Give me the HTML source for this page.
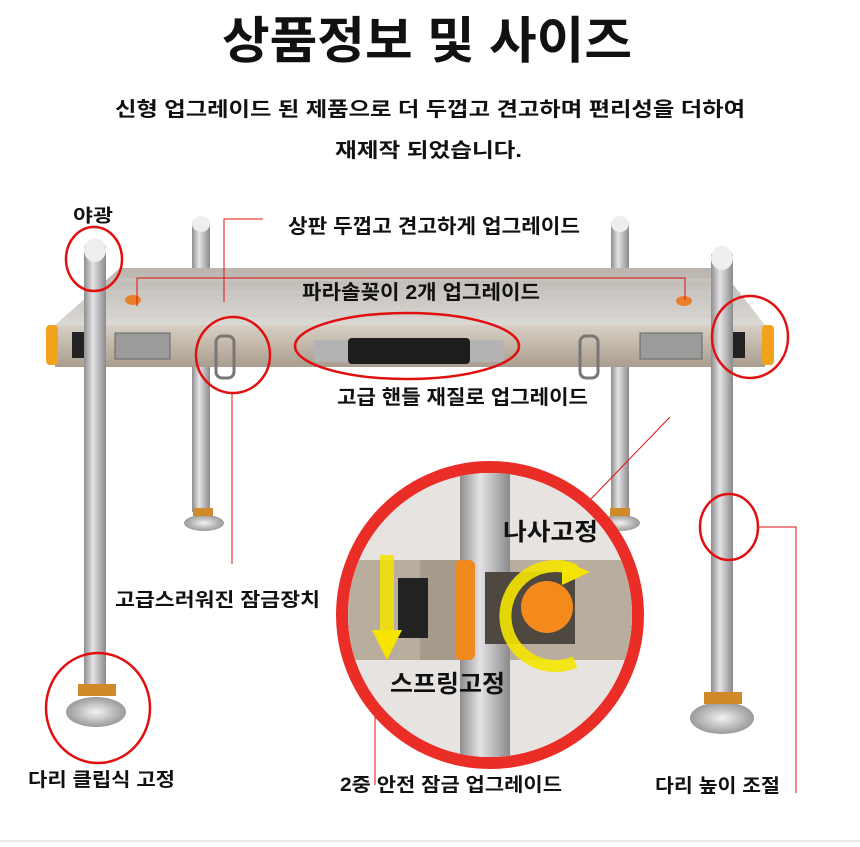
<!DOCTYPE html>
<html><head><meta charset="utf-8"><style>
html,body{margin:0;padding:0;background:#fff;width:860px;height:847px;overflow:hidden}
svg{display:block}
text{font-family:"Liberation Sans","Noto Sans CJK KR",sans-serif;font-weight:bold;fill:#111}
</style></head><body>
<svg width="860" height="847" viewBox="0 0 860 847">
<defs>
<linearGradient id="leg" x1="0" x2="1"><stop offset="0" stop-color="#8d8d8f"/><stop offset=".4" stop-color="#e4e4e6"/><stop offset="1" stop-color="#8a8a8c"/></linearGradient>
<linearGradient id="top" x1="0" y1="0" x2="0" y2="1"><stop offset="0" stop-color="#b9b4ae"/><stop offset="1" stop-color="#dcd9d5"/></linearGradient>
<linearGradient id="face" x1="0" y1="0" x2="0" y2="1"><stop offset="0" stop-color="#d8d0c6"/><stop offset=".5" stop-color="#c1b6a8"/><stop offset="1" stop-color="#a99d8f"/></linearGradient>
<radialGradient id="foot"><stop offset="0" stop-color="#f2f2f2"/><stop offset="1" stop-color="#9a9a9a"/></radialGradient>
<clipPath id="bc"><circle cx="490" cy="615" r="142"/></clipPath>
</defs>
<text x="222" y="58" font-size="50" font-weight="900" textLength="410" lengthAdjust="spacingAndGlyphs">상품정보 및 사이즈</text>
<text x="115" y="116" font-size="20" textLength="630" lengthAdjust="spacingAndGlyphs">신형 업그레이드 된 제품으로 더 두껍고 견고하며 편리성을 더하여</text>
<text x="335" y="157" font-size="20" textLength="187" lengthAdjust="spacingAndGlyphs">재제작 되었습니다.</text>

<!-- back legs -->
<rect x="192" y="222" width="18" height="290" fill="url(#leg)"/>
<ellipse cx="201" cy="224" rx="9" ry="8" fill="#eee"/>
<rect x="611" y="222" width="18" height="292" fill="url(#leg)"/>
<ellipse cx="620" cy="224" rx="9" ry="8" fill="#eee"/>
<ellipse cx="204" cy="523" rx="20" ry="8" fill="url(#foot)"/>
<rect x="193" y="508" width="20" height="8" fill="#d08a2a"/>
<ellipse cx="620" cy="523" rx="20" ry="8" fill="url(#foot)"/>
<rect x="610" y="508" width="20" height="8" fill="#d08a2a"/>

<!-- table top -->
<polygon points="120,268 720,268 765,325 55,325" fill="url(#top)"/>
<g stroke="#cfcac4" stroke-width="1">
<line x1="110" y1="280" x2="730" y2="280"/><line x1="98" y1="292" x2="740" y2="292"/><line x1="86" y1="304" x2="750" y2="304"/><line x1="74" y1="316" x2="758" y2="316"/>
</g>
<ellipse cx="133" cy="300" rx="8" ry="5" fill="#e8812a"/>
<ellipse cx="684" cy="301" rx="8" ry="5" fill="#e8812a"/>
<rect x="55" y="325" width="710" height="42" fill="url(#face)"/>
<rect x="46" y="325" width="12" height="40" rx="4" fill="#f3a21e"/>
<rect x="762" y="325" width="12" height="40" rx="4" fill="#f3a21e"/>
<rect x="72" y="332" width="12" height="26" fill="#222"/>
<rect x="733" y="332" width="12" height="26" fill="#222"/>
<rect x="115" y="333" width="55" height="26" fill="#9b9b9b" stroke="#666"/>
<rect x="640" y="333" width="62" height="26" fill="#9b9b9b" stroke="#666"/>
<rect x="216" y="336" width="18" height="42" rx="6" fill="none" stroke="#777" stroke-width="3"/>
<rect x="580" y="336" width="18" height="42" rx="6" fill="none" stroke="#777" stroke-width="3"/>
<rect x="314" y="340" width="190" height="22" rx="3" fill="#b3b3b3"/>
<rect x="348" y="338" width="122" height="26" rx="4" fill="#1e1e1e"/>

<!-- front legs -->
<rect x="84" y="246" width="22" height="440" fill="url(#leg)"/>
<ellipse cx="95" cy="250" rx="11" ry="12" fill="#eee"/>
<rect x="711" y="254" width="22" height="446" fill="url(#leg)"/>
<ellipse cx="722" cy="258" rx="11" ry="12" fill="#eee"/>
<ellipse cx="96" cy="712" rx="30" ry="15" fill="url(#foot)"/>
<rect x="78" y="684" width="38" height="12" fill="#d08a2a"/>
<ellipse cx="722" cy="718" rx="32" ry="16" fill="url(#foot)"/>
<rect x="704" y="692" width="38" height="12" fill="#d08a2a"/>

<!-- callout circles -->
<g fill="none" stroke="#e01010" stroke-width="2.5">
<ellipse cx="94" cy="259" rx="28" ry="32"/>
<ellipse cx="233" cy="355" rx="37" ry="38"/>
<ellipse cx="407" cy="346" rx="112" ry="33"/>
<ellipse cx="750" cy="337" rx="38" ry="41"/>
<ellipse cx="729" cy="527" rx="29" ry="33"/>
<ellipse cx="98" cy="708" rx="52" ry="55"/>
</g>
<g stroke="#e01010" stroke-width="1" fill="none">
<polyline points="263,219 224,219 224,302"/>
<polyline points="137,306 137,278 685,278 685,300"/>
<line x1="232" y1="393" x2="232" y2="564"/>
<line x1="670" y1="417" x2="590" y2="500"/>
<polyline points="759,527 796,527 796,793"/>
<line x1="375" y1="701" x2="375" y2="785"/>
</g>

<!-- big circle -->
<circle cx="490" cy="615" r="148" fill="#fff" stroke="#ea2d26" stroke-width="12"/>
<g clip-path="url(#bc)">
<rect x="340" y="465" width="300" height="300" fill="#e6e3e0"/>
<rect x="340" y="560" width="300" height="100" fill="#b9ad9e"/>
<rect x="420" y="560" width="80" height="100" fill="#a69a8b"/>
<rect x="460" y="465" width="50" height="300" fill="url(#leg)"/>
<rect x="455" y="560" width="20" height="100" rx="6" fill="#f08a1e"/>
<rect x="398" y="578" width="30" height="60" fill="#222"/>
<rect x="485" y="572" width="90" height="72" fill="#4e4840"/>
<path d="M575 570 A50 50 0 1 0 575 662" fill="none" stroke="#f5e400" stroke-width="12" opacity=".9"/>
<polygon points="562,560 590,572 562,585" fill="#f5e400"/>
<circle cx="547" cy="607" r="26" fill="#f58a1c"/>
<rect x="380" y="555" width="14" height="80" fill="#f5e400" opacity=".85"/>
<polygon points="372,630 402,630 387,660" fill="#f5e400"/>
</g>
<text x="503" y="540" font-size="24" textLength="95" lengthAdjust="spacingAndGlyphs">나사고정</text>
<text x="390" y="692" font-size="24" textLength="115" lengthAdjust="spacingAndGlyphs">스프링고정</text>

<!-- labels -->
<text x="73" y="222" font-size="18" textLength="40" lengthAdjust="spacingAndGlyphs">야광</text>
<text x="288" y="233" font-size="20" textLength="292" lengthAdjust="spacingAndGlyphs">상판 두껍고 견고하게 업그레이드</text>
<text x="302" y="299" font-size="20" textLength="238" lengthAdjust="spacingAndGlyphs">파라솔꽂이 2개 업그레이드</text>
<text x="337" y="404" font-size="20" textLength="251" lengthAdjust="spacingAndGlyphs">고급 핸들 재질로 업그레이드</text>
<text x="115" y="606" font-size="19" textLength="205" lengthAdjust="spacingAndGlyphs">고급스러워진 잠금장치</text>
<text x="28" y="786" font-size="19" textLength="147" lengthAdjust="spacingAndGlyphs">다리 클립식 고정</text>
<text x="340" y="791" font-size="19" textLength="222" lengthAdjust="spacingAndGlyphs">2중 안전 잠금 업그레이드</text>
<text x="655" y="792" font-size="19" textLength="125" lengthAdjust="spacingAndGlyphs">다리 높이 조절</text>
<line x1="0" y1="841" x2="860" y2="841" stroke="#e2e2e2" stroke-width="1.5"/>
</svg>
</body></html>
